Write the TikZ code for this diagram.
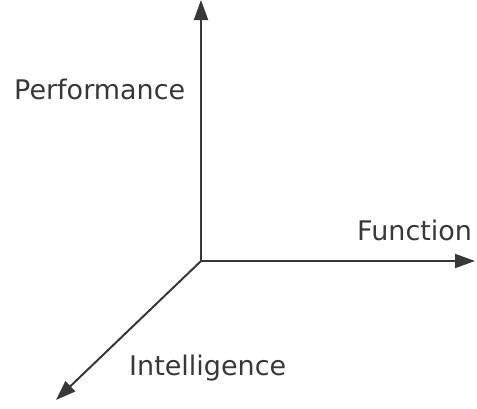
\documentclass[tikz,border=0pt]{standalone}
\usepackage{fontspec}
\setmainfont{DejaVu Sans}
\usetikzlibrary{arrows.meta}
\definecolor{axisgray}{HTML}{383838}
\begin{document}
\begin{tikzpicture}[x=1pt,y=-1pt,
  axis/.style={draw=axisgray,line width=2pt,-{Triangle[length=20pt,width=14pt]}},
  lbl/.style={inner sep=0pt,anchor=base west,text=axisgray,font=\fontsize{27}{32}\selectfont}]
\useasboundingbox (0,0) rectangle (477,408);
\coordinate (o) at (201,261);
\coordinate (up) at (201,0);
\coordinate (right) at (475,261);
\coordinate (down) at (56,400);
\draw[axis] (o) -- (up);
\draw[axis] (o) -- (right);
\draw[axis] (o) -- (down);
\node[lbl] (perf) at (14,99) {Performance};
\node[lbl] (func) at (357,240) {Function};
\node[lbl] (intel) at (129,375) {Intelligence};
\end{tikzpicture}
\end{document}
